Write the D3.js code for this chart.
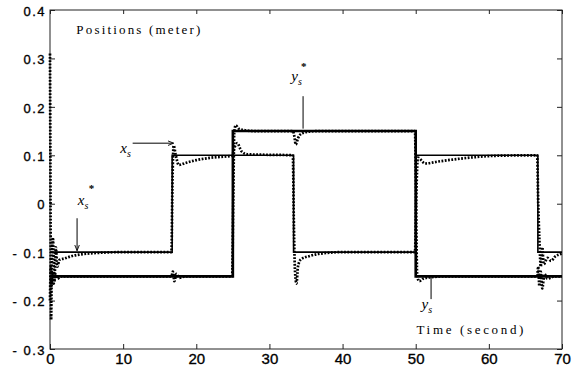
<!DOCTYPE html>
<html>
<head>
<meta charset="utf-8">
<script src="https://cdn.jsdelivr.net/npm/d3@7"></script>
<style>
body{margin:0;background:#fff;}
svg{display:block;}
</style>
</head>
<body>
<div id="chart"></div>
<script>
// reference steps (time of change, new value)
var xRefSteps = [[0,-0.1],[16.7,0.1],[33.3,-0.1],[50,0.1],[66.7,-0.1],[70,-0.1]];
var yRefSteps = [[0,-0.15],[25,0.15],[50,-0.15],[70,-0.15]];

var xAct = [[0,0.31],[0.05,0.1],[0.1,-0.1],[0.15,-0.24],[0.25,-0.12],[0.4,-0.07],[0.6,-0.16],[0.8,-0.09],
  [1.0,-0.13],[1.3,-0.116],[2,-0.113],[3,-0.108],[4,-0.105],[6,-0.102],[10,-0.1],[16.6,-0.1],
  [16.75,0.05],[16.9,0.12],[17.2,0.1],[17.6,0.08],[18.5,0.084],[20,0.09],[22,0.095],[24.9,0.099],
  [25.2,0.115],[25.6,0.125],[26.2,0.108],[27,0.102],[33.2,0.1],[33.35,-0.05],[33.5,-0.14],[33.7,-0.165],
  [33.9,-0.13],[34.3,-0.115],[35.5,-0.108],[37,-0.103],[40,-0.1],[49.9,-0.1],[50.05,0.0],[50.3,0.095],
  [51.3,0.083],[53,0.087],[55,0.091],[58,0.096],[61,0.099],[66.6,0.1],[66.75,0.0],[66.9,-0.07],
  [67.1,-0.13],[67.3,-0.09],[67.5,-0.125],[68,-0.112],[68.5,-0.118],[69,-0.11],[70,-0.103]];

// measured y position (dotted)
var yAct = [[0,-0.2],[0.1,-0.13],[0.2,-0.17],[0.35,-0.14],[0.5,-0.165],[0.7,-0.145],[1,-0.155],[1.5,-0.15],
  [16.6,-0.15],[16.8,-0.14],[17,-0.16],[17.3,-0.145],[17.7,-0.153],[18.5,-0.15],[24.9,-0.15],[25.05,0.0],
  [25.2,0.15],[25.4,0.162],[25.8,0.155],[26.5,0.152],[28,0.15],[33.2,0.15],[33.4,0.14],[33.6,0.122],
  [33.9,0.135],[34.4,0.145],[35.5,0.149],[37,0.15],[49.9,0.15],[50.05,0.0],[50.2,-0.15],[50.5,-0.16],
  [51,-0.155],[52,-0.152],[54,-0.15],[66.6,-0.15],[66.75,-0.13],[66.9,-0.17],[67.1,-0.14],[67.3,-0.175],
  [67.6,-0.145],[68,-0.155],[69,-0.15],[70,-0.15]];

var xTicks = [0,10,20,30,40,50,60,70];
var yTicks = [-0.3,-0.2,-0.1,0,0.1,0.2,0.3,0.4];

var width = 574, height = 373;
var margin = {top:10, right:12, bottom:24, left:50};

var svg = d3.select("#chart").append("svg")
    .attr("width",width)
    .attr("height",height);

var x = d3.scaleLinear().domain([0,70]).range([margin.left, width-margin.right]);
var y = d3.scaleLinear().domain([-0.3,0.4]).range([height-margin.bottom, margin.top]);

function yFmt(d){
    if(Math.abs(d)<1e-9) return "0";
    return d<0 ? "- "+Math.abs(d).toFixed(1) : d.toFixed(1);
}

// axes, ticks pointing inward
var gx = svg.append("g").attr("transform","translate(0,"+y(-0.3)+")")
    .call(d3.axisBottom(x).tickValues(xTicks).tickSizeInner(-5).tickSizeOuter(0).tickPadding(0));
gx.selectAll("text").attr("y",15).attr("dy",0)
    .style("font-family","'Liberation Sans', Arial, sans-serif").style("font-size","15px")
    .attr("fill","#000").attr("stroke","#000").attr("stroke-width",0.35);
svg.append("g").attr("transform","translate(0,"+y(0.4)+")")
    .call(d3.axisTop(x).tickValues(xTicks).tickSizeInner(-4).tickSizeOuter(0).tickFormat(""));
var gy = svg.append("g").attr("transform","translate("+x(0)+",0)")
    .call(d3.axisLeft(y).tickValues(yTicks).tickSizeInner(-5).tickSizeOuter(0).tickPadding(0).tickFormat(yFmt));
gy.selectAll("text").attr("x",-4).attr("dy","0.4em")
    .style("font-family","'Liberation Sans', Arial, sans-serif").style("font-size","13px")
    .style("letter-spacing","1.5px").attr("fill","#000").attr("stroke","#000").attr("stroke-width",0.35);
svg.append("g").attr("transform","translate("+x(70)+",0)")
    .call(d3.axisRight(y).tickValues(yTicks).tickSizeInner(-5).tickSizeOuter(0).tickFormat(""));
svg.selectAll(".domain").remove();
svg.selectAll(".tick line").attr("stroke","#222");

svg.append("rect")
    .attr("x",x(0)).attr("y",y(0.4))
    .attr("width",x(70)-x(0)).attr("height",y(-0.3)-y(0.4))
    .attr("fill","none").attr("stroke","#222").attr("stroke-width",1);

var step = d3.line().x(function(d){return x(d[0]);}).y(function(d){return y(d[1]);}).curve(d3.curveStepAfter);
var smooth = d3.line().x(function(d){return x(d[0]);}).y(function(d){return y(d[1]);}).curve(d3.curveMonotoneX);

svg.append("path").datum(xRefSteps).attr("d",step)
    .attr("fill","none").attr("stroke","#000").attr("stroke-width",1.6);
svg.append("path").datum(yRefSteps).attr("d",step)
    .attr("fill","none").attr("stroke","#000").attr("stroke-width",2.6);

[xAct,yAct].forEach(function(s){
    svg.append("path").datum(s).attr("d",smooth)
        .attr("fill","none").attr("stroke","#000").attr("stroke-width",2.7)
        .attr("stroke-dasharray","1.8,1.5");
});

// annotations
var serif = "'Liberation Serif', 'DejaVu Serif', 'Times New Roman', serif";
svg.append("defs").append("marker")
    .attr("id","arr").attr("viewBox","0 0 10 10").attr("refX",10).attr("refY",5)
    .attr("markerWidth",6).attr("markerHeight",6).attr("orient","auto")
    .append("path").attr("d","M0,1L10,5L0,9").attr("fill","none").attr("stroke","#000").attr("stroke-width",1.5);

function lbl(t, v, base){
    var txt = svg.append("text").attr("x",x(t)).attr("y",y(v))
        .style("font-family",serif).style("font-size","15px");
    txt.append("tspan").style("font-style","italic").text(base);
    txt.append("tspan").attr("dy",4).style("font-size","10px").style("font-style","italic").text("s");
    return txt;
}
function star(t, v){
    svg.append("text").attr("x",x(t)).attr("y",y(v))
        .style("font-family",serif).style("font-size","11px").style("font-weight","bold").text("*");
}

// x_s*
lbl(3.8,-0.003,"x"); star(5.3,0.025);
svg.append("line").attr("x1",x(3.7)).attr("y1",y(-0.03)).attr("x2",x(3.7)).attr("y2",y(-0.097))
    .attr("stroke","#000").attr("stroke-width",1).attr("marker-end","url(#arr)");
// x_s
lbl(9.6,0.105,"x");
svg.append("line").attr("x1",x(11.3)).attr("y1",y(0.125)).attr("x2",x(16.9)).attr("y2",y(0.125))
    .attr("stroke","#000").attr("stroke-width",1).attr("marker-end","url(#arr)");
// y_s*
lbl(33.0,0.253,"y"); star(34.3,0.276);
svg.append("line").attr("x1",x(34.6)).attr("y1",y(0.222)).attr("x2",x(34.6)).attr("y2",y(0.155))
    .attr("stroke","#000").attr("stroke-width",1);
// y_s
lbl(50.8,-0.218,"y");
svg.append("line").attr("x1",x(52.1)).attr("y1",y(-0.152)).attr("x2",x(52.1)).attr("y2",y(-0.197))
    .attr("stroke","#000").attr("stroke-width",1);

svg.append("text").attr("x",x(3.6)).attr("y",y(0.35))
    .style("font-family",serif).style("font-size","13px")
    .attr("textLength",124).attr("lengthAdjust","spacing").text("Positions (meter)");
svg.append("text").attr("x",x(50.1)).attr("y",y(-0.27))
    .style("font-family",serif).style("font-size","13px")
    .attr("textLength",107).attr("lengthAdjust","spacing").text("Time (second)");
</script>
</body>
</html>
